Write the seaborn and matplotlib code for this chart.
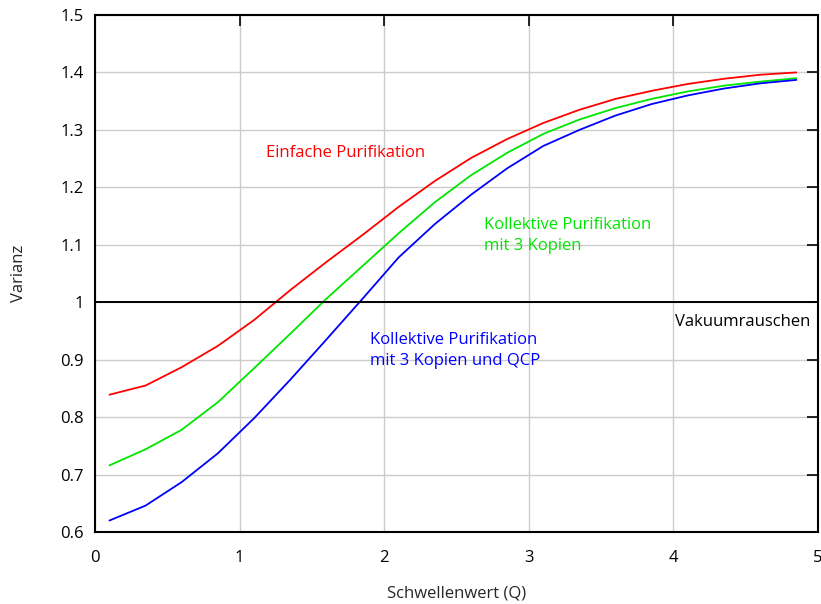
import pandas as pd
import matplotlib
matplotlib.use("Agg")
import matplotlib.pyplot as plt
import seaborn as sns

# Schwellenwert (Q)
schwelle = [0.1, 0.35, 0.6, 0.85, 1.1, 1.35, 1.6, 1.85, 2.1, 2.35,
            2.6, 2.85, 3.1, 3.35, 3.6, 3.85, 4.1, 4.35, 4.6, 4.85]

varianz_einfach = [0.839, 0.855, 0.887, 0.924, 0.969, 1.021, 1.070, 1.117, 1.166, 1.211,
                   1.251, 1.284, 1.312, 1.335, 1.354, 1.368, 1.380, 1.389, 1.396, 1.400]
varianz_kollektiv = [0.716, 0.744, 0.778, 0.826, 0.885, 0.945, 1.006, 1.063, 1.120, 1.174,
                     1.221, 1.260, 1.293, 1.318, 1.338, 1.354, 1.367, 1.377, 1.384, 1.390]
varianz_qcp = [0.620, 0.646, 0.687, 0.737, 0.798, 0.865, 0.935, 1.006, 1.078, 1.136,
               1.187, 1.233, 1.272, 1.300, 1.325, 1.345, 1.360, 1.372, 1.381, 1.387]

kurven = ["Einfache Purifikation", "Kollektive Purifikation", "Kollektive Purifikation mit QCP"]
farben = ["#ff0000", "#00e600", "#0000ff"]

df = pd.DataFrame({
    "Q": schwelle * 3,
    "Varianz": varianz_einfach + varianz_kollektiv + varianz_qcp,
    "Kurve": [kurven[0]] * 20 + [kurven[1]] * 20 + [kurven[2]] * 20,
})

sns.set_theme(style="white")
plt.rcParams["font.family"] = ["Open Sans", "DejaVu Sans"]

fig = plt.figure(figsize=(8.21, 6.04), dpi=100)
ax = fig.add_axes([95 / 821, 72 / 604, 723 / 821, 517 / 604])

ax.grid(True, color="#cccccc", linewidth=1.0)
ax.set_axisbelow(True)

sns.lineplot(data=df, x="Q", y="Varianz", hue="Kurve", palette=farben,
             linewidth=1.3, legend=False, ax=ax)
ax.axhline(1.0, color="black", linewidth=1.4)

ax.set_xlim(0, 5)
ax.set_ylim(0.6, 1.5)
ax.set_xticks([0, 1, 2, 3, 4, 5])
ax.set_yticks([0.6, 0.7, 0.8, 0.9, 1.0, 1.1, 1.2, 1.3, 1.4, 1.5])
ax.set_yticklabels(["0.6", "0.7", "0.8", "0.9", "1", "1.1", "1.2", "1.3", "1.4", "1.5"])
ax.tick_params(direction="in", length=8, width=1.2, colors="black", labelsize=12,
               top=True, right=True, pad=8)
ax.tick_params(axis="x", pad=13)
for s in ax.spines.values():
    s.set_color("black")
    s.set_linewidth(1.5)

ax.set_xlabel("Schwellenwert (Q)", fontsize=12, labelpad=14)
ax.set_ylabel("Varianz", fontsize=12, labelpad=24)

ax.text(1.18, 1.26, "Einfache Purifikation", color="#ff0000", fontsize=12, va="center")
ax.text(2.69, 1.116, "Kollektive Purifikation\nmit 3 Kopien", color="#00e600",
        fontsize=12, va="center", linespacing=1.45)
ax.text(1.90, 0.916, "Kollektive Purifikation\nmit 3 Kopien und QCP", color="#0000ff",
        fontsize=12, va="center", linespacing=1.45)
ax.text(4.01, 0.966, "Vakuumrauschen", color="black", fontsize=12, va="center")

fig.savefig("out.png", dpi=100)
